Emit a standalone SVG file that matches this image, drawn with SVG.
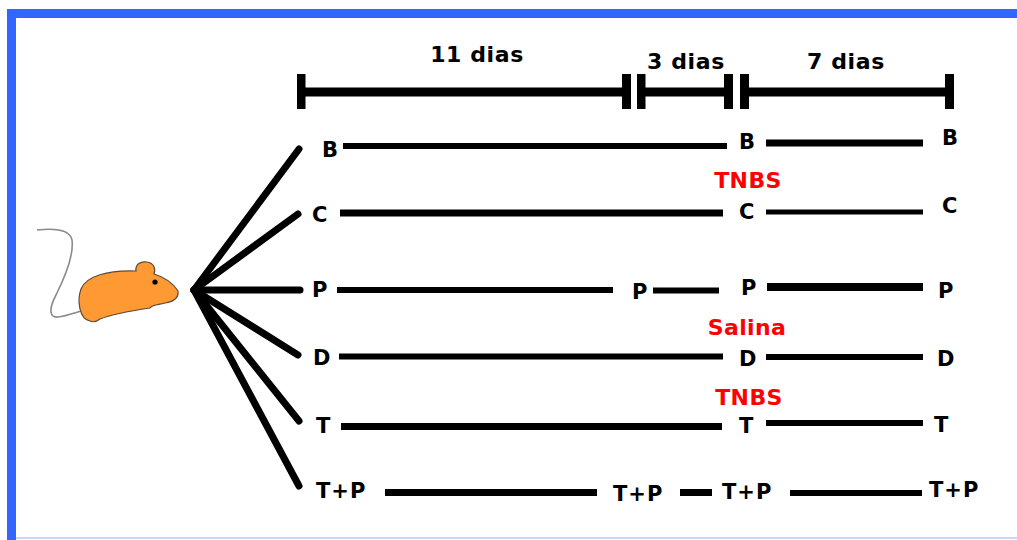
<svg xmlns="http://www.w3.org/2000/svg" width="1017" height="540" viewBox="0 0 1017 540">
  <style>
    .lbl { font-family: "DejaVu Sans", Verdana, sans-serif; font-weight: bold; font-size: 21px; fill: #000; }
    .days { font-family: "DejaVu Sans", Verdana, sans-serif; font-weight: bold; font-size: 22px; fill: #000; letter-spacing: 0.6px; text-anchor: middle; }
    .agent { font-family: "DejaVu Sans", Verdana, sans-serif; font-weight: bold; font-size: 22px; fill: #ff0000; letter-spacing: 0.4px; text-anchor: middle; }
    .seg { stroke: #000; stroke-linecap: butt; fill: none; }
    .fan { stroke: #000; stroke-width: 7; stroke-linecap: round; fill: none; }
    .tick { fill: #000; }
  </style>

  <!-- frame -->
  <rect x="0" y="0" width="1017" height="540" fill="#ffffff"/>
  <rect x="7" y="9" width="1010" height="9" fill="#3366ff"/>
  <rect x="7" y="9" width="9" height="531" fill="#3366ff"/>
  <rect x="16" y="537" width="1001" height="2" fill="#c9d7fb"/>

  <!-- timeline scale -->
  <g id="timeline">
    <line class="seg" x1="305" y1="92" x2="622" y2="92" stroke-width="9"/>
    <line class="seg" x1="645" y1="92" x2="724" y2="92" stroke-width="9"/>
    <line class="seg" x1="749" y1="92" x2="945" y2="92" stroke-width="9"/>
    <rect class="tick" x="297" y="74" width="8.5" height="35"/>
    <rect class="tick" x="622" y="74" width="9" height="35"/>
    <rect class="tick" x="637" y="74" width="8.5" height="35"/>
    <rect class="tick" x="724" y="74" width="9" height="35"/>
    <rect class="tick" x="740" y="74" width="9" height="35"/>
    <rect class="tick" x="945" y="74" width="9" height="35"/>
    <text class="days" x="477" y="62">11 dias</text>
    <text class="days" x="686" y="69">3 dias</text>
    <text class="days" x="846" y="69">7 dias</text>
  </g>

  <!-- mouse -->
  <g id="mouse">
    <path d="M 37 230 C 55 228, 70 230, 72 240 C 74 255, 66 275, 56 295 C 48 310, 50 318, 58 317 C 66 316, 74 313, 81 311" fill="none" stroke="#8a8a8a" stroke-width="1.6"/>
    <path d="M 90 321 C 79 319, 77 300, 81 289 C 86 276, 108 270, 136 271 C 135 264, 141 261, 147 262 C 154 263, 156 269, 154 274 C 164 277, 173 283, 178 291 C 179 298, 173 302, 165 303 C 158 305, 153 304, 150 308 C 130 311, 110 315, 100 319 C 96 322, 92 322, 90 321 Z" fill="#ff9933" stroke="#5a4a3a" stroke-width="1.2"/>
    <circle cx="155" cy="282" r="2.6" fill="#000"/>
  </g>

  <!-- connectors: branches and group timelines -->
  <g id="connectors">
    <line class="fan" x1="194" y1="290" x2="299" y2="149"/>
    <line class="fan" x1="194" y1="290" x2="298" y2="214"/>
    <line class="fan" x1="194" y1="290" x2="300" y2="290"/>
    <line class="fan" x1="194" y1="290" x2="298" y2="355"/>
    <line class="fan" x1="194" y1="290" x2="299" y2="421"/>
    <line class="fan" x1="194" y1="290" x2="299" y2="486"/>

    <line class="seg" x1="343" y1="146" x2="727" y2="146" stroke-width="6"/>
    <line class="seg" x1="766" y1="143" x2="923" y2="143" stroke-width="7"/>

    <line class="seg" x1="340" y1="213" x2="723" y2="213" stroke-width="7"/>
    <line class="seg" x1="766" y1="212" x2="923" y2="212" stroke-width="5"/>

    <line class="seg" x1="337" y1="290" x2="613" y2="290" stroke-width="6"/>
    <line class="seg" x1="653" y1="290.5" x2="719" y2="290.5" stroke-width="6"/>
    <line class="seg" x1="767" y1="287" x2="923" y2="287" stroke-width="8"/>

    <line class="seg" x1="339" y1="356.5" x2="723" y2="356.5" stroke-width="6"/>
    <line class="seg" x1="766" y1="357" x2="923" y2="357" stroke-width="6"/>

    <line class="seg" x1="341" y1="426.5" x2="722" y2="426.5" stroke-width="7"/>
    <line class="seg" x1="766" y1="423" x2="923" y2="423" stroke-width="6"/>

    <line class="seg" x1="385" y1="492.5" x2="597" y2="492.5" stroke-width="7"/>
    <line class="seg" x1="680" y1="492.5" x2="712" y2="492.5" stroke-width="7"/>
    <line class="seg" x1="790" y1="493" x2="922" y2="493" stroke-width="6"/>
  </g>

  <!-- group B -->
  <g id="group-B">
    <text class="lbl" x="322" y="157">B</text>
    <text class="lbl" x="739" y="149">B</text>
    <text class="lbl" x="942" y="145">B</text>
  </g>

  <!-- group C -->
  <g id="group-C">
    <text class="agent" x="748" y="188">TNBS</text>
    <text class="lbl" x="312" y="222">C</text>
    <text class="lbl" x="739" y="219">C</text>
    <text class="lbl" x="942" y="213">C</text>
  </g>

  <!-- group P -->
  <g id="group-P">
    <text class="lbl" x="312" y="297">P</text>
    <text class="lbl" x="632" y="299">P</text>
    <text class="lbl" x="741" y="295">P</text>
    <text class="lbl" x="938" y="298">P</text>
  </g>

  <!-- group D -->
  <g id="group-D">
    <text class="agent" x="747" y="335">Salina</text>
    <text class="lbl" x="313" y="365">D</text>
    <text class="lbl" x="739" y="366">D</text>
    <text class="lbl" x="937" y="366">D</text>
  </g>

  <!-- group T -->
  <g id="group-T">
    <text class="agent" x="749" y="405">TNBS</text>
    <text class="lbl" x="316" y="433">T</text>
    <text class="lbl" x="739" y="433">T</text>
    <text class="lbl" x="934" y="432">T</text>
  </g>

  <!-- group T+P -->
  <g id="group-TP">
    <text class="lbl" x="316" y="498" letter-spacing="1">T+P</text>
    <text class="lbl" x="613" y="501" letter-spacing="1">T+P</text>
    <text class="lbl" x="722" y="499" letter-spacing="1">T+P</text>
    <text class="lbl" x="929" y="497" letter-spacing="1">T+P</text>
  </g>
</svg>
